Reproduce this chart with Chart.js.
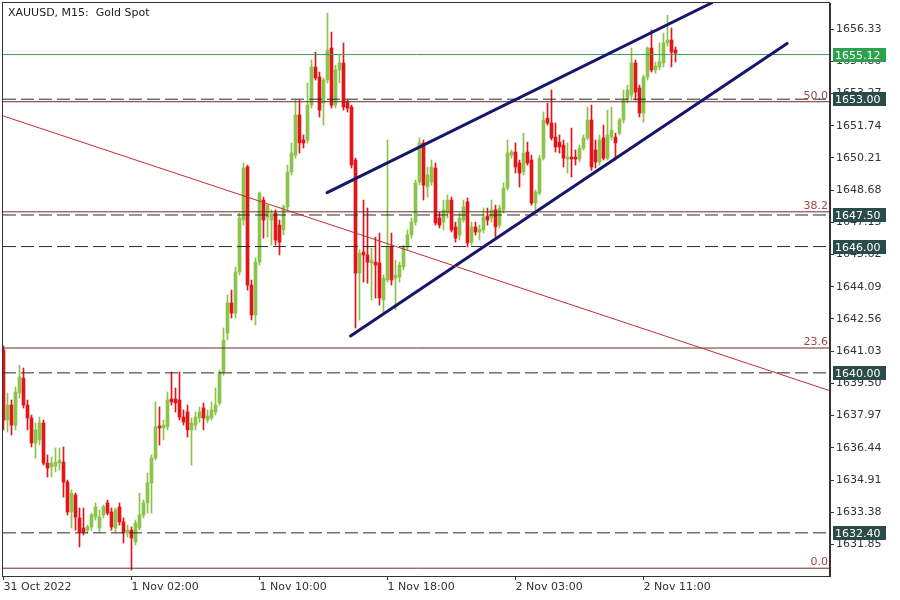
<!DOCTYPE html>
<html>
<head>
<meta charset="utf-8">
<script src="https://cdn.jsdelivr.net/npm/chart.js@4"></script>
<style>
  html, body { margin: 0; padding: 0; background: #fff; }
</style>
</head>
<body>
<canvas id="plot" width="900" height="600"></canvas>
<script>
// XAUUSD M15 candles, one per 15 minutes starting 31 Oct 18:00
const opens = [
  1641.09, 1637.76, 1638.47, 1637.52, 1639.04, 1639.75, 1638.47, 1637.86, 1636.67, 1636.81,
  1637.62, 1635.71, 1635.53, 1635.57, 1635.71, 1635.76, 1634.81, 1633.39, 1634.20, 1633.11,
  1632.63, 1632.53, 1632.68, 1633.15, 1632.63, 1633.25, 1633.82, 1633.39, 1632.63, 1633.63,
  1632.92, 1632.39, 1632.53, 1631.97, 1632.63, 1633.25, 1633.82, 1634.77, 1635.95, 1637.48,
  1637.38, 1637.43, 1638.76, 1638.76, 1638.71, 1637.90, 1638.14, 1637.29, 1637.52, 1637.86,
  1638.33, 1637.76, 1637.86, 1638.14, 1638.57, 1640.04, 1641.89, 1643.32, 1642.84, 1644.79,
  1647.26, 1649.78, 1644.17, 1642.75, 1645.26, 1648.21, 1647.40, 1647.26, 1647.59, 1647.02,
  1646.79, 1647.88, 1649.54, 1650.34, 1652.25, 1651.06, 1651.06, 1652.72, 1654.53, 1654.05,
  1652.82, 1653.91, 1655.43, 1652.72, 1654.39, 1654.72, 1652.87, 1652.63, 1650.11, 1644.74,
  1645.74, 1645.60, 1645.22, 1645.26, 1645.22, 1643.46, 1644.41, 1645.98, 1644.50, 1644.55,
  1645.03, 1645.98, 1646.55, 1647.16, 1649.06, 1650.92, 1648.83, 1649.06, 1649.73, 1647.36,
  1647.16, 1647.59, 1648.21, 1646.93, 1646.55, 1647.26, 1648.12, 1646.21, 1646.93, 1646.69,
  1646.79, 1647.45, 1647.36, 1647.74, 1647.02, 1647.74, 1648.78, 1650.34, 1650.49, 1649.97,
  1649.54, 1650.49, 1650.11, 1648.07, 1648.54, 1650.20, 1652.10, 1651.87, 1651.20, 1650.96,
  1650.82, 1650.16, 1650.25, 1650.25, 1650.16, 1650.68, 1651.16, 1652.01, 1650.59, 1650.02,
  1651.16, 1650.20, 1651.20, 1651.20, 1651.39, 1652.01, 1652.96, 1653.20, 1654.72, 1653.53,
  1652.34, 1654.05, 1655.43, 1654.39, 1654.53, 1654.72, 1655.67, 1655.81, 1655.34
];
const highs = [
  1641.28, 1639.04, 1638.71, 1639.33, 1640.37, 1640.23, 1638.71, 1638.00, 1637.62, 1637.90,
  1637.76, 1636.10, 1636.00, 1636.43, 1636.43, 1636.48, 1634.91, 1634.44, 1634.29, 1633.58,
  1633.58, 1632.77, 1633.34, 1633.82, 1633.49, 1633.72, 1633.96, 1633.58, 1633.58, 1633.82,
  1633.11, 1632.77, 1632.68, 1633.01, 1634.29, 1633.96, 1635.24, 1636.10, 1638.62, 1638.38,
  1637.76, 1639.09, 1640.04, 1639.28, 1640.04, 1638.24, 1638.47, 1637.86, 1638.14, 1638.38,
  1638.57, 1638.24, 1638.62, 1639.28, 1640.13, 1642.13, 1643.70, 1643.93, 1645.03, 1647.59,
  1649.97, 1649.87, 1644.41, 1645.46, 1648.59, 1648.35, 1647.97, 1647.74, 1647.74, 1647.26,
  1647.97, 1649.87, 1650.92, 1652.96, 1652.96, 1651.30, 1653.77, 1654.86, 1655.24, 1654.29,
  1654.01, 1657.09, 1656.19, 1654.62, 1655.10, 1655.67, 1652.96, 1652.72, 1650.20, 1645.84,
  1648.21, 1647.83, 1645.93, 1646.45, 1646.64, 1644.65, 1651.06, 1646.64, 1645.36, 1645.26,
  1646.07, 1646.79, 1647.36, 1649.16, 1651.16, 1651.06, 1649.78, 1650.11, 1649.97, 1647.64,
  1648.21, 1648.45, 1648.35, 1647.16, 1647.59, 1648.21, 1648.31, 1647.16, 1647.16, 1647.02,
  1647.83, 1647.83, 1648.21, 1647.97, 1647.97, 1649.02, 1651.06, 1650.59, 1650.92, 1650.11,
  1651.39, 1650.96, 1650.34, 1648.69, 1650.34, 1652.39, 1652.82, 1653.44, 1651.87, 1651.30,
  1651.06, 1650.92, 1651.63, 1650.59, 1650.82, 1651.30, 1652.63, 1652.72, 1651.06, 1651.30,
  1651.77, 1652.48, 1652.63, 1651.39, 1652.10, 1653.44, 1653.67, 1655.43, 1654.86, 1653.67,
  1654.15, 1655.48, 1656.29, 1654.77, 1655.67, 1656.14, 1656.99, 1656.38, 1655.48
];
const lows = [
  1637.29, 1637.19, 1637.05, 1637.29, 1638.80, 1638.33, 1637.29, 1636.48, 1635.95, 1636.57,
  1635.62, 1635.05, 1635.05, 1635.29, 1635.38, 1634.10, 1633.25, 1632.63, 1632.53, 1631.73,
  1632.30, 1632.39, 1632.53, 1633.01, 1632.44, 1633.11, 1633.25, 1632.53, 1632.44, 1632.77,
  1631.92, 1632.20, 1630.63, 1631.83, 1632.53, 1633.11, 1633.34, 1633.34, 1635.86, 1636.57,
  1636.81, 1637.29, 1638.47, 1638.14, 1637.76, 1637.52, 1636.95, 1635.62, 1637.29, 1637.66,
  1637.29, 1637.62, 1637.76, 1638.00, 1638.47, 1639.89, 1641.56, 1642.60, 1642.60, 1644.65,
  1647.02, 1643.93, 1642.51, 1642.27, 1645.12, 1646.40, 1646.45, 1646.07, 1646.07, 1645.60,
  1646.55, 1647.74, 1649.40, 1650.20, 1650.44, 1650.68, 1650.92, 1652.58, 1653.91, 1652.15,
  1651.77, 1653.77, 1652.58, 1652.58, 1653.77, 1652.48, 1652.39, 1649.73, 1642.13, 1642.51,
  1644.31, 1644.26, 1643.46, 1643.56, 1643.22, 1642.89, 1644.31, 1644.17, 1642.99, 1644.31,
  1644.89, 1645.84, 1646.40, 1647.02, 1648.92, 1648.21, 1648.35, 1648.92, 1647.02, 1646.88,
  1646.79, 1647.36, 1646.69, 1646.21, 1646.31, 1647.16, 1645.98, 1646.07, 1646.55, 1646.31,
  1646.64, 1647.02, 1647.16, 1646.45, 1646.88, 1647.59, 1648.69, 1650.20, 1649.49, 1648.83,
  1649.40, 1649.87, 1647.97, 1647.64, 1648.45, 1650.11, 1651.77, 1651.06, 1650.49, 1650.44,
  1649.78, 1649.49, 1649.30, 1649.87, 1650.02, 1650.59, 1651.06, 1649.63, 1649.73, 1649.87,
  1650.11, 1650.11, 1651.06, 1650.11, 1651.30, 1651.87, 1652.82, 1652.96, 1652.96, 1652.15,
  1651.91, 1653.91, 1654.29, 1654.24, 1654.39, 1654.53, 1655.52, 1654.53, 1654.77
];
const closes = [
  1637.76, 1638.47, 1637.52, 1639.09, 1639.80, 1638.47, 1637.86, 1636.67, 1637.29, 1637.62,
  1635.71, 1635.48, 1635.71, 1635.76, 1635.86, 1634.81, 1633.39, 1634.29, 1633.15, 1632.44,
  1632.44, 1632.68, 1633.25, 1633.63, 1633.15, 1633.63, 1633.34, 1632.68, 1633.49, 1632.92,
  1632.39, 1632.53, 1632.16, 1632.87, 1633.25, 1633.82, 1634.77, 1635.95, 1637.43, 1637.38,
  1637.52, 1638.71, 1638.62, 1638.57, 1637.90, 1637.66, 1637.29, 1637.62, 1637.90, 1638.14,
  1637.86, 1637.95, 1638.24, 1638.47, 1640.04, 1641.56, 1643.32, 1642.84, 1644.79, 1647.36,
  1649.73, 1644.17, 1642.75, 1645.26, 1648.54, 1647.26, 1647.97, 1647.55, 1646.31, 1646.21,
  1647.88, 1649.54, 1650.44, 1652.25, 1650.92, 1650.92, 1652.72, 1654.53, 1654.01, 1652.48,
  1653.91, 1655.34, 1652.72, 1654.39, 1654.72, 1652.63, 1652.58, 1649.87, 1644.74, 1645.69,
  1645.60, 1645.26, 1645.36, 1645.12, 1643.56, 1644.50, 1645.98, 1644.41, 1644.65, 1645.12,
  1645.98, 1646.55, 1647.16, 1649.02, 1650.92, 1648.92, 1649.40, 1649.78, 1647.12, 1647.02,
  1647.74, 1648.21, 1646.79, 1646.40, 1647.36, 1647.88, 1646.17, 1646.93, 1646.69, 1646.83,
  1647.40, 1647.26, 1647.74, 1646.93, 1647.83, 1648.78, 1650.44, 1650.49, 1649.78, 1649.49,
  1650.44, 1649.97, 1648.07, 1648.59, 1650.20, 1652.01, 1651.87, 1651.16, 1650.73, 1650.73,
  1650.20, 1650.25, 1650.16, 1650.16, 1650.68, 1651.16, 1652.01, 1649.78, 1650.02, 1651.06,
  1650.20, 1651.30, 1651.53, 1650.92, 1652.01, 1652.96, 1653.44, 1654.72, 1653.34, 1652.34,
  1654.05, 1655.43, 1654.39, 1654.58, 1654.77, 1655.67, 1655.81, 1655.24, 1655.19
];

// axis ticks
const xTickIndex = [0, 32, 64, 96, 128, 160];
const xTickLabels = ['31 Oct 2022', '1 Nov 02:00', '1 Nov 10:00', '1 Nov 18:00', '2 Nov 03:00', '2 Nov 11:00'];
const yTickValues = [1631.85, 1633.38, 1634.91, 1636.44, 1637.97, 1639.50, 1641.03, 1642.56, 1644.09,
  1645.62, 1647.15, 1648.68, 1650.21, 1651.74, 1653.27, 1654.80, 1656.33];

// horizontal levels (dashed, with price tags)
const levelValues = [1653.00, 1647.50, 1646.00, 1640.00, 1632.40];
const bidPrice = 1655.12;

// fibonacci retracement
const fibValues = [1630.72, 1641.18, 1647.65, 1652.88];
const fibLabels = ['0.0', '23.6', '38.2', '50.0'];

// trend lines: [x1, y1, x2, y2] in candle index / price
const downTrend = [0, 1652.20, 206.625, 1639.15];
const channelTop = [80.9, 1648.56, 177.0, 1657.57];
const channelBottom = [86.75, 1641.75, 195.9, 1655.65];

const xMin = -0.125;
const xMax = 206.625;
const yMin = 1630.35;
const yMax = 1657.57;

const UP = '#8cc34a';
const DOWN = '#e3151a';
const FONT = '"DejaVu Sans", sans-serif';

const candleColors = opens.map((o, i) => closes[i] >= o ? UP : DOWN);

function hLine(value, color, dash) {
  return {
    type: 'line',
    data: [{x: xMin, y: value}, {x: xMax, y: value}],
    borderColor: color,
    borderWidth: 1,
    borderDash: dash || [],
    pointRadius: 0,
    order: -1,
  };
}

function segment(seg, color, width) {
  return {
    type: 'line',
    data: [{x: seg[0], y: seg[1]}, {x: seg[2], y: seg[3]}],
    borderColor: color,
    borderWidth: width,
    borderCapStyle: 'round',
    pointRadius: 0,
    order: -2,
  };
}

const datasets = [
  {
    type: 'bar',
    data: opens.map((o, i) => ({x: i, y: [lows[i], highs[i]]})),
    backgroundColor: candleColors,
    barThickness: 1,
    grouped: false,
    order: 2,
  },
  {
    type: 'bar',
    data: opens.map((o, i) => ({x: i, y: [o, closes[i]]})),
    backgroundColor: candleColors,
    barThickness: 3,
    minBarLength: 1,
    grouped: false,
    order: 1,
  },
];
fibValues.forEach(v => datasets.push(hLine(v, '#6e2b2b')));
levelValues.forEach(v => datasets.push(hLine(v, '#2a2a2a', [13, 5])));
datasets.push(hLine(bidPrice, '#3a9a52'));
datasets.push(segment(downTrend, '#b83232', 1));
datasets.push(segment(channelTop, '#16166b', 3));
datasets.push(segment(channelBottom, '#16166b', 3));

const overlayPlugin = {
  id: 'overlay',
  beforeDraw: (chart) => {
    const ctx = chart.ctx;
    ctx.save();
    ctx.fillStyle = '#ffffff';
    ctx.fillRect(0, 0, chart.width, chart.height);
    ctx.restore();
  },
  afterDraw: (chart) => {
    const ctx = chart.ctx;
    const area = chart.chartArea;
    const y = chart.scales.y;
    ctx.save();

    // frame
    ctx.strokeStyle = '#333333';
    ctx.lineWidth = 1;
    ctx.strokeRect(area.left - 0.5, area.top - 0.5, area.right - area.left, area.bottom - area.top + 1);

    // title
    ctx.font = '11px ' + FONT;
    ctx.fillStyle = '#222222';
    ctx.textBaseline = 'alphabetic';
    ctx.textAlign = 'left';
    ctx.fillText('XAUUSD, M15:  Gold Spot', 8, 16);

    // fib labels
    ctx.fillStyle = '#9a4848';
    ctx.textAlign = 'right';
    fibValues.forEach((v, i) => {
      ctx.fillText(fibLabels[i], area.right - 2, y.getPixelForValue(v) - 3);
    });

    // price tags
    ctx.textAlign = 'left';
    ctx.textBaseline = 'middle';
    const tag = (v, bg) => {
      const py = Math.round(y.getPixelForValue(v));
      ctx.fillStyle = bg;
      ctx.fillRect(area.right + 3, py - 7, 53, 14);
      ctx.fillStyle = '#ffffff';
      ctx.fillText(v.toFixed(2), area.right + 5, py + 1);
    };
    levelValues.forEach(v => tag(v, '#2b4a4a'));
    tag(bidPrice, '#2ca24c');
    ctx.restore();
  }
};

const config = {
  type: 'bar',
  data: { datasets },
  plugins: [overlayPlugin],
  options: {
    responsive: false,
    animation: false,
    devicePixelRatio: 1,
    layout: { padding: { left: 3, top: 3, right: 0, bottom: 0 } },
    plugins: {
      legend: { display: false },
      tooltip: { enabled: false },
    },
    scales: {
      x: {
        type: 'linear',
        min: xMin,
        max: xMax,
        bounds: 'data',
        offset: false,
        grid: { offset: false, drawOnChartArea: false, drawTicks: true, tickLength: 4, color: '#333333' },
        border: { display: true, color: '#333333' },
        afterBuildTicks: (scale) => {
          scale.ticks = xTickIndex.map(v => ({value: v}));
        },
        afterFit: (scale) => {
          scale.height = 24;
          scale.paddingLeft = 0;
          scale.paddingRight = 0;
        },
        ticks: {
          align: 'start',
          maxRotation: 0,
          autoSkip: false,
          padding: 1,
          color: '#333333',
          font: { family: FONT, size: 11 },
          callback: (value, index) => xTickLabels[index],
        },
      },
      y: {
        type: 'linear',
        position: 'right',
        min: yMin,
        max: yMax,
        bounds: 'data',
        beginAtZero: false,
        grid: { drawOnChartArea: false, drawTicks: true, tickLength: 4, color: '#333333' },
        border: { display: true, color: '#333333' },
        afterBuildTicks: (scale) => {
          scale.ticks = yTickValues.map(v => ({value: v}));
        },
        afterFit: (scale) => {
          scale.width = 70;
          scale.paddingTop = 0;
          scale.paddingBottom = 0;
        },
        ticks: {
          padding: 2,
          color: '#333333',
          font: { family: FONT, size: 11 },
          callback: (value) => value.toFixed(2),
        },
      },
    },
  },
};

const canvas = document.getElementById('plot');
const chart = new Chart(canvas.getContext('2d'), config);
</script>
</body>
</html>
